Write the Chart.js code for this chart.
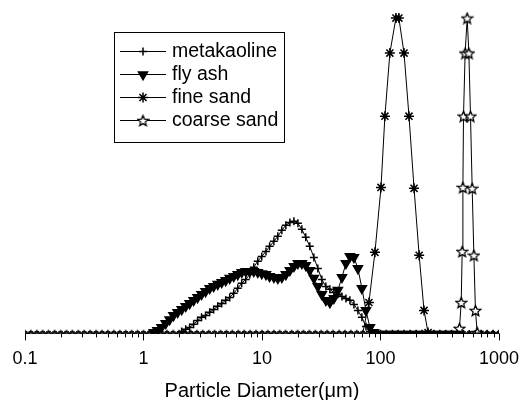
<!DOCTYPE html>
<html>
<head>
<meta charset="utf-8">
<script src="https://cdn.jsdelivr.net/npm/chart.js@4.4.0/dist/chart.umd.min.js"></script>
<style>
  html, body { margin: 0; padding: 0; background: #fff; }
  #wrap { width: 519px; height: 400px; }
</style>
</head>
<body>
<div id="wrap"><canvas id="chart" width="519" height="400"></canvas></div>
<script>
// size classes (µm) where the analyser reports zero
const sizeClasses = [0.1, 0.112, 0.126, 0.141, 0.158, 0.178, 0.2, 0.224, 0.251, 0.282, 0.316, 0.355, 0.398, 0.447, 0.501, 0.562, 0.631, 0.708, 0.794, 0.891,
  1, 1.12, 1.26, 1.41, 1.58, 1.78, 2, 2.24, 2.51, 2.82, 3.16, 3.55, 3.98, 4.47, 5.01, 5.62, 6.31, 7.08, 7.94, 8.91,
  10, 11.2, 12.6, 14.1, 15.8, 17.8, 20, 22.4, 25.1, 28.2, 31.6, 35.5, 39.8, 44.7, 50.1, 56.2, 63.1, 70.8, 79.4, 89.1,
  100, 112, 126, 141, 158, 178, 200, 224, 251, 282, 316, 355, 398, 447, 501, 562, 631, 708, 794, 891, 1000];

// metakaoline
const metaD = [2.10, 2.27, 2.45, 2.65, 2.86, 3.09, 3.34, 3.62, 3.91, 4.23, 4.57, 4.94, 5.34, 5.77, 6.24, 6.74, 7.29, 7.88, 8.52, 9.21,
  9.95, 10.8, 11.6, 12.6, 13.6, 14.7, 15.9, 17.2, 18.6, 20.1, 21.7, 23.4, 25.3, 27.4, 29.6, 32.0, 34.6, 37.4, 40.4, 43.7,
  47.3, 51.1, 55.2, 59.7, 64.5, 69.7, 75.4, 81.5];
const metaV = [0.6, 1.3, 1.9, 2.9, 4.1, 5.1, 5.7, 6.7, 7.6, 8.6, 9.5, 10.5, 11.4, 12.7, 14.3, 15.9, 17.1, 18.7, 21.0, 22.9,
  24.4, 26.0, 27.6, 29.2, 30.8, 32.7, 34.3, 35.2, 35.6, 34.9, 33.0, 30.5, 27.6, 24.1, 20.6, 17.1, 14.9, 14.0, 13.0, 12.4,
  11.7, 11.1, 10.5, 9.2, 7.3, 5.1, 2.2, 0.6];

// fly ash
const flyD = [1.22, 1.31, 1.42, 1.54, 1.66, 1.79, 1.94, 2.10, 2.27, 2.45, 2.65, 2.86, 3.09, 3.34, 3.62, 3.91, 4.23, 4.57, 4.94, 5.34,
  5.77, 6.24, 6.74, 7.29, 7.88, 8.52, 9.21, 9.95, 10.8, 11.6, 12.6, 13.6, 14.7, 15.9, 17.2, 18.6, 20.1, 21.7, 23.4, 25.3,
  27.4, 29.6, 32.0, 34.6, 37.4, 40.4, 43.7, 47.3, 51.1, 55.2, 59.7, 64.5, 69.7, 75.4, 81.5, 88.1];
const flyV = [0.3, 1.0, 1.9, 3.2, 4.4, 5.7, 6.7, 7.6, 8.6, 9.5, 10.5, 11.4, 12.4, 13.3, 14.3, 14.9, 15.6, 16.2, 16.8, 17.5,
  18.1, 18.7, 19.4, 19.7, 19.7, 19.7, 19.4, 19.0, 18.7, 18.1, 17.8, 17.5, 17.8, 18.7, 20.0, 21.3, 22.2, 22.2, 21.6, 20.0,
  17.5, 14.9, 12.4, 10.5, 9.8, 11.1, 13.7, 17.8, 22.2, 24.4, 24.1, 20.6, 14.3, 7.3, 1.9, 0.3];

// fine sand
const fineD = [79.9, 89.8, 101, 109, 120, 135, 143, 158, 174, 192, 212, 233, 252];
const fineV = [9.8, 25.7, 46.3, 68.9, 88.9, 100, 100, 88.9, 68.9, 46.0, 24.8, 7.3, 0.3];

// coarse sand
const coarseD = [464, 480, 489, 496, 502, 518, 539, 557, 575, 594, 614, 633, 655];
const coarseV = [1.6, 9.8, 26.0, 46.3, 68.9, 88.9, 100, 88.9, 68.9, 46.0, 24.8, 7.3, 0.3];

const labels = ['metakaoline', 'fly ash', 'fine sand', 'coarse sand'];
const tickValues = [0.1, 1, 10, 100, 1000];

// zero readings visible on the baseline below / above each peak
function buildSeries(d, v, zeroBelow, zeroAbove, zeroMax) {
  const pts = d.map((x, i) => ({ x: x, y: v[i] }));
  const lo = d[0], hi = d[d.length - 1];
  sizeClasses.forEach(s => {
    if ((zeroBelow && s < lo * 0.97) || (zeroAbove && s > hi * 1.03 && s <= zeroMax)) pts.push({ x: s, y: 0 });
  });
  return pts.sort((a, b) => a.x - b.x);
}

// open five-point star marker
function makeStar(size, lw) {
  const c = document.createElement('canvas');
  c.width = size; c.height = size;
  const g = c.getContext('2d');
  const cx = size / 2, cy = size / 2 + 0.6, ro = size / 2 - 0.9, ri = ro * 0.45;
  g.beginPath();
  for (let i = 0; i < 10; i++) {
    const r = i % 2 ? ri : ro;
    const a = -Math.PI / 2 + i * Math.PI / 5;
    g.lineTo(cx + r * Math.cos(a), cy + r * Math.sin(a));
  }
  g.closePath();
  g.fillStyle = '#fff';
  g.fill();
  g.strokeStyle = '#000';
  g.lineWidth = lw;
  g.stroke();
  return c;
}
const bigStar = makeStar(13, 1.3);
const smallStar = makeStar(8, 1.1);

const zeroSmall = (big, small) => ctx => (ctx.raw && ctx.raw.y === 0 ? small : big);

const datasets = [
  {
    label: labels[0],
    data: buildSeries(metaD, metaV, false, true, 1000),
    pointStyle: 'cross',
    pointRadius: zeroSmall(4, 3.5),
    order: 2
  },
  {
    label: labels[1],
    data: buildSeries(flyD, flyV, false, true, 447),
    pointStyle: 'triangle',
    rotation: 180,
    pointRadius: zeroSmall(5.2, 4),
    pointBackgroundColor: '#000',
    order: 1
  },
  {
    label: labels[2],
    data: buildSeries(fineD, fineV, true, true, 1000),
    pointStyle: 'star',
    pointRadius: zeroSmall(5, 3),
    order: 4
  },
  {
    label: labels[3],
    data: buildSeries(coarseD, coarseV, true, true, 1000),
    pointStyle: zeroSmall(bigStar, smallStar),
    pointRadius: 6,
    order: 3
  }
];
datasets.forEach(ds => {
  ds.borderColor = '#000';
  ds.borderWidth = 1;
  ds.pointBorderColor = '#000';
  ds.pointBorderWidth = 1.5;
  if (!ds.pointBackgroundColor) ds.pointBackgroundColor = '#fff';
  ds.pointHoverRadius = ds.pointRadius;
  ds.tension = 0;
});

// tick marks (major 7px, minor 4px) and the boxed legend inside the plot
const axisExtras = {
  id: 'axisExtras',
  afterDraw(chart) {
    const ctx = chart.ctx;
    const xs = chart.scales.x;
    const bottom = chart.chartArea.bottom;
    ctx.save();
    ctx.strokeStyle = '#000';
    ctx.lineWidth = 1;
    const tick = (v, len) => {
      const px = Math.round(xs.getPixelForValue(v)) + 0.5;
      ctx.beginPath();
      ctx.moveTo(px, bottom);
      ctx.lineTo(px, bottom + len);
      ctx.stroke();
    };
    tickValues.forEach(v => tick(v, 7));
    for (let i = 0; i < tickValues.length - 1; i++) {
      for (let m = 2; m <= 9; m++) tick(tickValues[i] * m, 4);
    }

    // legend
    ctx.strokeRect(114.5, 32.5, 170, 110);
    ctx.font = '19.5px "Liberation Sans", Arial, sans-serif';
    ctx.textBaseline = 'middle';
    chart.data.datasets.forEach((ds, i) => {
      const y = 51.5 + i * 23;
      ctx.strokeStyle = '#000';
      ctx.lineWidth = 1;
      ctx.beginPath();
      ctx.moveTo(120, y);
      ctx.lineTo(166, y);
      ctx.stroke();
      const style = typeof ds.pointStyle === 'function' ? bigStar : ds.pointStyle;
      const radius = typeof ds.pointRadius === 'function' ? ds.pointRadius({ raw: { y: 1 } }) : ds.pointRadius;
      ctx.fillStyle = ds.pointBackgroundColor;
      ctx.lineWidth = 1.5;
      Chart.helpers.drawPoint(ctx, {
        pointStyle: style,
        radius: radius,
        rotation: ds.rotation || 0,
        borderWidth: 1.5
      }, 143, y);
      ctx.fillStyle = '#000';
      ctx.fillText(ds.label, 172, y);
    });
    ctx.restore();
  }
};

new Chart(document.getElementById('chart'), {
  type: 'line',
  data: { datasets: datasets },
  options: {
    responsive: false,
    animation: false,
    events: [],
    layout: { padding: { left: 25, right: 0, top: 8, bottom: -3 } },
    plugins: {
      legend: { display: false },
      tooltip: { enabled: false }
    },
    scales: {
      x: {
        type: 'logarithmic',
        min: 0.1,
        max: 1000,
        afterBuildTicks: scale => { scale.ticks = tickValues.map(v => ({ value: v })); },
        border: { display: true, color: '#000', width: 1 },
        grid: { drawOnChartArea: false, drawTicks: true, tickLength: 15, tickColor: 'rgba(0,0,0,0)' },
        ticks: {
          color: '#000',
          padding: 0,
          maxRotation: 0,
          autoSkip: false,
          font: { family: '"Liberation Sans", Arial, sans-serif', size: 18 },
          callback: v => String(v)
        },
        title: {
          display: true,
          text: 'Particle Diameter(μm)',
          color: '#000',
          padding: { top: 9, bottom: 0 },
          font: { family: '"Liberation Sans", Arial, sans-serif', size: 20 }
        }
      },
      y: {
        display: false,
        min: 0,
        max: 103.2
      }
    }
  },
  plugins: [axisExtras]
});
</script>
</body>
</html>
